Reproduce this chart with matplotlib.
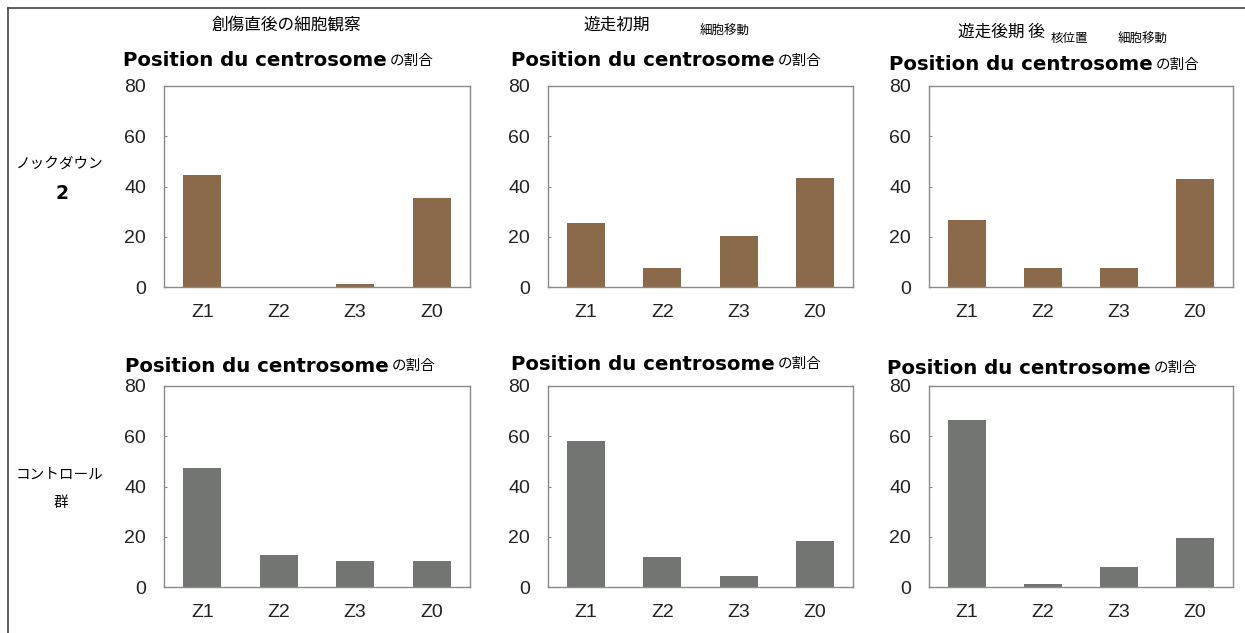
import matplotlib
matplotlib.use('Agg')
import matplotlib.pyplot as plt
from matplotlib.lines import Line2D

zones = ['Z1', 'Z2', 'Z3', 'Z0']
yticks = [0, 20, 40, 60, 80]

# values (% of cells)
top_row = [[44.5, 0.0, 1.2, 35.5],
           [25.5, 7.5, 20.3, 43.5],
           [26.5, 7.4, 7.4, 42.8]]
bottom_row = [[47.5, 12.7, 10.2, 10.2],
              [58.0, 11.9, 4.2, 18.5],
              [66.5, 1.3, 7.8, 19.5]]

panel_title = 'Position du centrosome'
panel_suffix = 'の割合'
row_labels = [('ノックダウン', '2'), ('コントロール', '群')]
col_headers = ['創傷直後の細胞観察', '遊走初期', '遊走後期 後']
col_small = [[], ['細胞移動'], ['核位置', '細胞移動']]

brown = '#8b6a4b'
grey = '#737573'

W, H = 1245, 633
fig = plt.figure(figsize=(W / 100, H / 100), dpi=100)
cjk = ['Noto Sans CJK JP', 'DejaVu Sans']

def px(x0, y0, x1, y1):
    return [x0 / W, 1 - y1 / H, (x1 - x0) / W, (y1 - y0) / H]

def ftext(x, y, s, **kw):
    return fig.text(x / W, 1 - y / H, s, **kw)

lefts = [(164, 470), (548, 853), (929, 1233)]
rows = [(86, 287), (386, 587)]
title_pos = [[(123, 61), (511, 61), (889, 65)],
             [(125, 366), (511, 364), (887, 368)]]

for r, data in enumerate([top_row, bottom_row]):
    color = brown if r == 0 else grey
    for c, vals in enumerate(data):
        x0, x1 = lefts[c]
        y0, y1 = rows[r]
        ax = fig.add_axes(px(x0, y0, x1, y1))
        ax.bar(range(len(zones)), vals, width=0.5, color=color)
        ax.set_xlim(-0.5, 3.5)
        ax.set_ylim(0, 80)
        ax.set_yticks(yticks)
        ax.set_xticks(range(len(zones)))
        ax.set_xticklabels(zones)
        for lab in ax.get_xticklabels() + ax.get_yticklabels():
            lab.set_fontfamily('Liberation Sans')
            lab.set_fontsize(14)
            lab.set_color('#222222')
        ax.tick_params(axis='x', length=0, pad=12)
        ax.tick_params(axis='y', length=2, direction='in', pad=13, color='#888888')
        for s in ax.spines.values():
            s.set_color('#8a8a8a')
            s.set_linewidth(1)
        tx, ty = title_pos[r][c]
        ftext(tx, ty, panel_title, family='DejaVu Sans', fontweight='bold',
              fontsize=14.2, va='center', ha='left')
        ftext(tx + 267, ty, panel_suffix, family=cjk, fontsize=10.5,
              va='center', ha='left')

# row labels
ftext(60, 164, row_labels[0][0], family=cjk, fontsize=10.5, ha='center', va='center')
ftext(62, 193, row_labels[0][1], family='DejaVu Sans', fontweight='bold',
      fontsize=13.5, ha='center', va='center')
ftext(60, 475, row_labels[1][0], family=cjk, fontsize=10.5, ha='center', va='center')
ftext(61, 503, row_labels[1][1], family=cjk, fontsize=10.5, ha='center', va='center')

# column headers
ftext(286, 25, col_headers[0], family=cjk, fontsize=12, ha='center', va='center')
ftext(617, 25, col_headers[1], family=cjk, fontsize=12, ha='center', va='center')
ftext(725, 31, col_small[1][0], family=cjk, fontsize=9, ha='center', va='center')
ftext(1001, 32, col_headers[2], family=cjk, fontsize=12, ha='center', va='center')
ftext(1069, 38, col_small[2][0], family=cjk, fontsize=9, ha='center', va='center')
ftext(1143, 39, col_small[2][1], family=cjk, fontsize=9, ha='center', va='center')

# slide frame
fig.add_artist(Line2D([8 / W, 1], [1 - 8 / H, 1 - 8 / H], color='#444444', lw=1.2))
fig.add_artist(Line2D([8 / W, 8 / W], [0, 1 - 8 / H], color='#444444', lw=1.2))

fig.savefig('out.png', dpi=100)
